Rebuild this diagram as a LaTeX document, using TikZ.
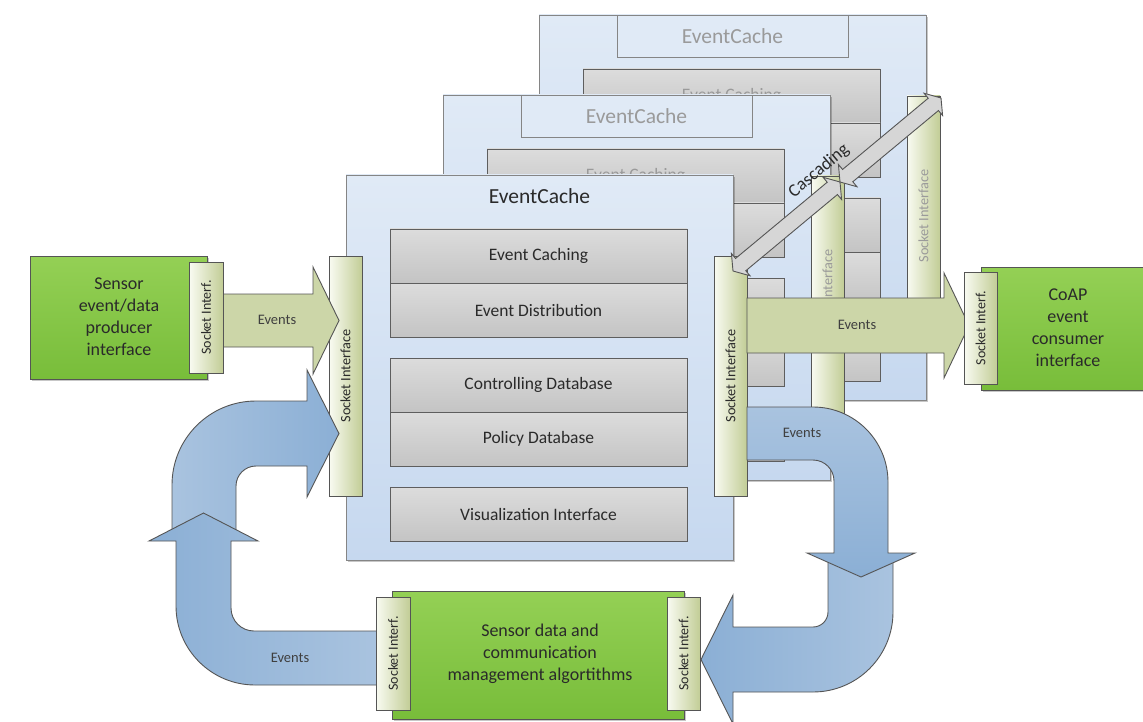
\documentclass[tikz,border=0pt]{standalone}
\usepackage{fontspec}
\setmainfont{Carlito}
\usetikzlibrary{calc,shadows}

\definecolor{cardTop}{HTML}{E0EAF6}
\definecolor{cardBot}{HTML}{C6D8EF}
\definecolor{cardLine}{HTML}{858585}
\definecolor{boxTop}{HTML}{DCDCDC}
\definecolor{boxBot}{HTML}{C4C4C4}
\definecolor{boxLine}{HTML}{5E5E5E}
\definecolor{sockLeft}{HTML}{F9FBF2}
\definecolor{sockRight}{HTML}{C2CD96}
\definecolor{greenTop}{HTML}{94D055}
\definecolor{greenBot}{HTML}{78BD3A}
\definecolor{evGreen}{HTML}{CCD6A8}
\definecolor{blueLight}{HTML}{A9C3DF}
\definecolor{blueDark}{HTML}{8BAFD5}
\definecolor{cascFill}{HTML}{D6D6D6}
\definecolor{inkDark}{HTML}{2A2A2A}
\definecolor{inkFaded}{HTML}{9A9A9A}
\definecolor{edgeGrey}{HTML}{555555}

% one EventCache card: #1 name prefix, #2/#3 shift in pixels, #4 extra scope options,
% #5 = 1 to label every part, 0 to label only the parts left uncovered by the cards in front
\newcommand\cachecard[5]{%
 \begin{scope}[shift={(#2,#3)},#4]
  \node[card,minimum width=387,minimum height=385] (#1card) at (539.5,367.5) {};
  \node[titlebox,minimum width=231,minimum height=42] (#1title) at (539.5,196) {EventCache};
  \node[greybox] (#1caching) at (538.5,256) {Event Caching};
  \node[greybox] (#1distrib) at (538.5,310) {\ifnum#5=1 Event Distribution\fi};
  \node[greybox] (#1control) at (538.5,385) {\ifnum#5=1 Controlling Database\fi};
  \node[greybox] (#1policy) at (538.5,439) {\ifnum#5=1 Policy Database\fi};
  \node[greybox] (#1visual) at (538.5,514.5) {\ifnum#5=1 Visualization Interface\fi};
  \node[sockbox,minimum width=33,minimum height=240] (#1sockL) at (345.5,376) {};
  \ifnum#5=1 \node[socktext] at (#1sockL) {Socket Interface};\fi
  \node[sockbox,minimum width=33,minimum height=240] (#1sockR) at (730.5,376) {};
  \node[socktext] at (#1sockR) {Socket Interface};
 \end{scope}}

% double-headed block arrow between two named coordinates
\newcommand\cascadearrow[2]{%
 \draw[cascade] let \p1=($(#2)-(#1)$), \n1={atan2(\y1,\x1)} in
  (#1) -- ($(#1)+(\n1:10pt)+(\n1+90:14.5pt)$) -- ($(#1)+(\n1:10pt)+(\n1+90:8pt)$)
  -- ($(#2)+(\n1+180:10pt)+(\n1+90:8pt)$) -- ($(#2)+(\n1+180:10pt)+(\n1+90:14.5pt)$)
  -- (#2) -- ($(#2)+(\n1+180:10pt)+(\n1-90:14.5pt)$) -- ($(#2)+(\n1+180:10pt)+(\n1-90:8pt)$)
  -- ($(#1)+(\n1:10pt)+(\n1-90:8pt)$) -- ($(#1)+(\n1:10pt)+(\n1-90:14.5pt)$) -- cycle;}

\tikzset{
  ink/.style={text=inkDark},
  softshadow/.style={drop shadow={shadow xshift=2pt,shadow yshift=-2pt,opacity=.22,fill=black}},
  card/.style={draw=cardLine,line width=0.9pt,top color=cardTop,bottom color=cardBot,
    inner sep=0,outer sep=0,softshadow},
  titlebox/.style={draw=none,inner sep=0,outer sep=0,ink,font=\fontsize{21.5}{24}\selectfont},
  greybox/.style={draw=boxLine,line width=0.9pt,top color=boxTop,bottom color=boxBot,
    minimum width=297,minimum height=54,inner sep=0,outer sep=0,ink,
    font=\fontsize{17.5}{20}\selectfont},
  sockbox/.style={draw=edgeGrey,line width=0.9pt,left color=sockLeft,right color=sockRight,
    inner sep=0,outer sep=0},
  socktext/.style={rotate=90,ink,inner sep=0,font=\fontsize{14.3}{16}\selectfont},
  greenbox/.style={draw=edgeGrey,line width=0.9pt,top color=greenTop,bottom color=greenBot,
    inner sep=0,outer sep=0,softshadow},
  boxlabel/.style={align=center,text=inkDark,font=\fontsize{18}{22}\selectfont},
  evlabel/.style={text=inkDark!90,font=\fontsize{14.5}{16}\selectfont},
  greenarrow/.style={draw=edgeGrey,line width=0.9pt,fill=evGreen},
  bluearrow/.style={draw=edgeGrey,line width=0.9pt},
  cascade/.style={draw=edgeGrey,line width=0.9pt,fill=cascFill},
}

\begin{document}
\begin{tikzpicture}[x=1pt,y=-1pt]
\useasboundingbox (0,0) rectangle (1143,722);
\clip (0,0) rectangle (1143,722);
\fill[white] (0,0) rectangle (1143,722);

% stacked caches, back to front
\cachecard{back}{193}{-160}{ink/.style={text=inkFaded},
  titlebox/.append style={draw=cardLine,line width=0.9pt,fill=cardTop}}{0}
\cachecard{mid}{97}{-80}{ink/.style={text=inkFaded},
  titlebox/.append style={draw=cardLine,line width=0.9pt,fill=cardTop}}{0}
\cachecard{front}{0}{0}{}{1}

% producer -> cache and cache -> consumer event flows
\draw[greenarrow] (217,294) -- (313,294) -- (313,267) -- (339,320.5) -- (313,374)
  -- (313,347) -- (217,347) -- cycle;
\node[evlabel] at (277,320) {Events};
\draw[greenarrow] (747,298) -- (944,298) -- (944,273) -- (969,325.5) -- (944,378)
  -- (944,353) -- (747,353) -- cycle;
\node[evlabel] at (857,325) {Events};

% loop through the management algorithms (left side)
\draw[bluearrow,left color=blueLight,right color=blueDark]
  (172,538) -- (172,485) .. controls (172,438.6) and (209.6,401) .. (256,401)
  -- (307,401) -- (307,370) -- (339,433.5) -- (307,497) -- (307,466) -- (256,466)
  .. controls (245,466) and (236,475) .. (236,486) -- (236,538) -- cycle;
\draw[bluearrow,left color=blueDark,right color=blueLight]
  (377,685) -- (255,685) .. controls (211.4,685) and (176,649.6) .. (176,606)
  -- (176,541) -- (149,541) -- (203.5,513) -- (258,541) -- (231,541) -- (231,608)
  .. controls (231,620.7) and (241.3,631) .. (254,631) -- (377,631) -- cycle;
\node[evlabel] at (290,658) {Events};

% loop through the management algorithms (right side)
\draw[bluearrow,left color=blueDark,right color=blueLight]
  (828,556) -- (828,612) .. controls (828,620.3) and (821.3,627) .. (813,627)
  -- (733,627) -- (733,595) -- (701,659.5) -- (733,724) -- (733,692) -- (813,692)
  .. controls (857.2,692) and (893,656.2) .. (893,612) -- (893,556) -- cycle;
\draw[bluearrow,top color=blueLight,bottom color=blueDark]
  (747,407) -- (813,407) .. controls (854.4,407) and (888,440.6) .. (888,482)
  -- (888,553) -- (915,553) -- (861,577) -- (807,553) -- (834,553) -- (834,481)
  .. controls (834,469.4) and (824.6,460) .. (813,460) -- (747,460) -- cycle;
\node[evlabel] at (802,433) {Events};

% cascading between the stacked caches
\coordinate (cascFront) at (733,271);
\coordinate (cascMid) at (840,182);
\coordinate (cascBack) at (941,98);
\cascadearrow{cascFront}{cascMid}
\cascadearrow{cascMid}{cascBack}
\node[rotate=40,text=inkDark,font=\fontsize{18}{20}\selectfont] at (819,171) {Cascading};

% sensor event/data producer
\node[greenbox,minimum width=177,minimum height=123] (sensor) at (118.5,317.5) {};
\node[boxlabel] at (119,317) {Sensor\\event/data\\producer\\interface};
\node[sockbox,minimum width=34,minimum height=111] (sensorSock) at (206,317.5) {};
\node[socktext,font=\fontsize{14}{16}\selectfont] at (sensorSock) {Socket Interf.};

% CoAP event consumer
\node[greenbox,minimum width=169,minimum height=123] (coap) at (1065.5,328.5) {};
\node[boxlabel] at (1068,328) {CoAP\\event\\consumer\\interface};
\node[sockbox,minimum width=33,minimum height=112] (coapSock) at (980.5,328) {};
\node[socktext,font=\fontsize{14}{16}\selectfont] at (coapSock) {Socket Interf.};

% sensor data and communication management
\node[greenbox,minimum width=292,minimum height=128] (algo) at (538,655) {};
\node[boxlabel] at (540,654) {Sensor data and\\communication\\management algortithms};
\node[sockbox,minimum width=34,minimum height=113] (algoSockL) at (393,653.5) {};
\node[socktext,font=\fontsize{14}{16}\selectfont] at (algoSockL) {Socket Interf.};
\node[sockbox,minimum width=33,minimum height=113] (algoSockR) at (683.5,653.5) {};
\node[socktext,font=\fontsize{14}{16}\selectfont] at (algoSockR) {Socket Interf.};
\end{tikzpicture}
\end{document}
